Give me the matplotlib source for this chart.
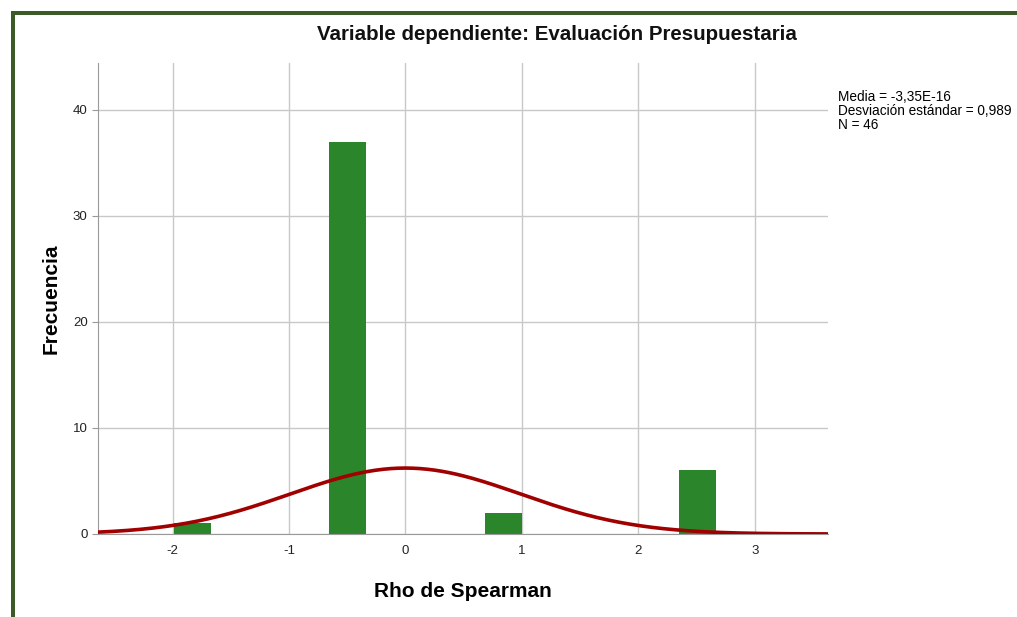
import numpy as np
import matplotlib.pyplot as plt
from matplotlib.patches import Rectangle

plt.rcParams['font.family'] = ['Liberation Sans', 'DejaVu Sans']
plt.rcParams['axes.unicode_minus'] = False

# histogram data
bin_left = [-1.99, -0.66, 0.68, 2.35]
bin_width = 0.335
counts = [1, 37, 2, 6]
media = -3.35e-16
desv = 0.989
n = 46

fig = plt.figure(figsize=(10.17, 6.17), dpi=100)

# dark green frame on top and left
fig.add_artist(Rectangle((11 / 1017, 0), 4 / 1017, 1 - 11 / 617, transform=fig.transFigure,
                         color='#3b5a27', lw=0))
fig.add_artist(Rectangle((11 / 1017, 1 - 15 / 617), 1 - 11 / 1017, 4 / 617, transform=fig.transFigure,
                         color='#3b5a27', lw=0))

ax = fig.add_axes([98 / 1017, 1 - 534 / 617, 730 / 1017, 471 / 617])

ax.bar(bin_left, counts, width=bin_width * 0.95, align='edge', color='#2b862b', zorder=2)

# normal curve scaled to the histogram
x = np.linspace(-2.64, 3.63, 400)
y = n * bin_width / (desv * np.sqrt(2 * np.pi)) * np.exp(-0.5 * ((x - media) / desv) ** 2)
ax.plot(x, y, color='#a00000', lw=2.6, zorder=3, solid_capstyle='round')

ax.set_xlim(-2.64, 3.63)
ax.set_ylim(0, 44.4)
ax.set_xticks([-2, -1, 0, 1, 2, 3])
ax.set_yticks([0, 10, 20, 30, 40])
ax.grid(True, color='#c8c8c8', lw=1, zorder=0)
ax.set_axisbelow(True)
for s in ['top', 'right']:
    ax.spines[s].set_visible(False)
for s in ['left', 'bottom']:
    ax.spines[s].set_color('#999999')
ax.tick_params(axis='both', colors='#999999', labelcolor='#222222', labelsize=9.5, length=4)
ax.tick_params(axis='x', length=0, pad=8)

ax.set_xlabel('Rho de Spearman', fontsize=15, fontweight='bold', labelpad=18)
ax.set_ylabel('Frecuencia', fontsize=15, fontweight='bold', labelpad=9)
fig.text(557 / 1017, 1 - 35 / 617, 'Variable dependiente: Evaluación Presupuestaria',
         ha='center', va='center', fontsize=14.8, fontweight='bold', color='#111111')

fig.text(838 / 1017, 1 - 90 / 617,
         'Media = -3,35E-16\nDesviación estándar = 0,989\nN = 46',
         ha='left', va='top', fontsize=9.8, linespacing=0.98)

fig.savefig('out.png', dpi=100)
